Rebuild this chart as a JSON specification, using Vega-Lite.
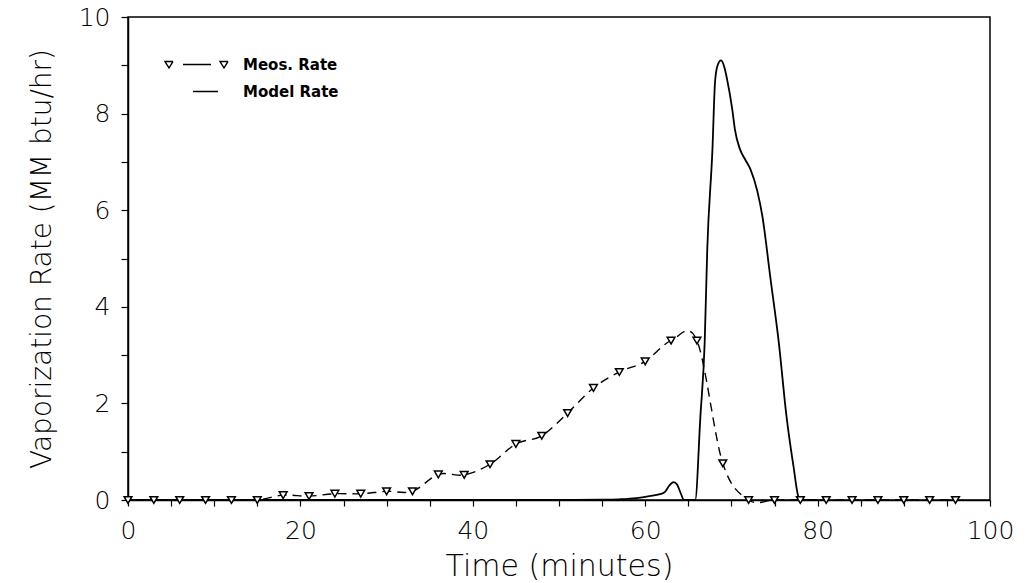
{
  "$schema": "https://vega.github.io/schema/vega-lite/v6.json",
  "autosize": "none",
  "width": 862,
  "height": 483,
  "padding": {"left": 128, "top": 17, "right": 39, "bottom": 83},
  "background": "white",
  "config": {
    "view": {"stroke": "black", "strokeWidth": 1.5},
    "font": "DejaVu Sans",
    "axis": {
      "grid": false,
      "domainColor": "black",
      "domainWidth": 1.5,
      "tickColor": "black",
      "tickWidth": 1.2,
      "labelColor": "black",
      "titleColor": "black",
      "labelFont": "DejaVu Sans",
      "titleFont": "DejaVu Sans",
      "labelFontWeight": 300,
      "titleFontWeight": 300,
      "labelFontSize": 25
    }
  },
  "data": {
    "values": [
      {"series": "Meos. Rate", "t": 0, "rate": 0},
      {"series": "Meos. Rate", "t": 3, "rate": 0},
      {"series": "Meos. Rate", "t": 6, "rate": 0},
      {"series": "Meos. Rate", "t": 9, "rate": 0},
      {"series": "Meos. Rate", "t": 12, "rate": 0},
      {"series": "Meos. Rate", "t": 15, "rate": 0},
      {"series": "Meos. Rate", "t": 18, "rate": 0.1},
      {"series": "Meos. Rate", "t": 21, "rate": 0.08},
      {"series": "Meos. Rate", "t": 24, "rate": 0.13},
      {"series": "Meos. Rate", "t": 27, "rate": 0.13},
      {"series": "Meos. Rate", "t": 30, "rate": 0.18},
      {"series": "Meos. Rate", "t": 33, "rate": 0.18},
      {"series": "Meos. Rate", "t": 36, "rate": 0.53},
      {"series": "Meos. Rate", "t": 39, "rate": 0.52},
      {"series": "Meos. Rate", "t": 42, "rate": 0.74},
      {"series": "Meos. Rate", "t": 45, "rate": 1.16},
      {"series": "Meos. Rate", "t": 48, "rate": 1.33},
      {"series": "Meos. Rate", "t": 51, "rate": 1.8},
      {"series": "Meos. Rate", "t": 54, "rate": 2.32},
      {"series": "Meos. Rate", "t": 57, "rate": 2.65},
      {"series": "Meos. Rate", "t": 60, "rate": 2.87},
      {"series": "Meos. Rate", "t": 63, "rate": 3.3},
      {"series": "Meos. Rate", "t": 66, "rate": 3.3},
      {"series": "Meos. Rate", "t": 69, "rate": 0.76},
      {"series": "Meos. Rate", "t": 72, "rate": 0},
      {"series": "Meos. Rate", "t": 75, "rate": 0},
      {"series": "Meos. Rate", "t": 78, "rate": 0},
      {"series": "Meos. Rate", "t": 81, "rate": 0},
      {"series": "Meos. Rate", "t": 84, "rate": 0},
      {"series": "Meos. Rate", "t": 87, "rate": 0},
      {"series": "Meos. Rate", "t": 90, "rate": 0},
      {"series": "Meos. Rate", "t": 93, "rate": 0},
      {"series": "Meos. Rate", "t": 96, "rate": 0},
      {"series": "Model Rate", "t": 0, "rate": 0},
      {"series": "Model Rate", "t": 50, "rate": 0},
      {"series": "Model Rate", "t": 55, "rate": 0.005},
      {"series": "Model Rate", "t": 57, "rate": 0.015},
      {"series": "Model Rate", "t": 59, "rate": 0.04},
      {"series": "Model Rate", "t": 60.5, "rate": 0.08},
      {"series": "Model Rate", "t": 61.7, "rate": 0.12},
      {"series": "Model Rate", "t": 62.3, "rate": 0.17},
      {"series": "Model Rate", "t": 62.8, "rate": 0.3},
      {"series": "Model Rate", "t": 63.3, "rate": 0.37},
      {"series": "Model Rate", "t": 63.7, "rate": 0.32},
      {"series": "Model Rate", "t": 64.1, "rate": 0.15},
      {"series": "Model Rate", "t": 64.5, "rate": 0},
      {"series": "Model Rate", "t": 65.8, "rate": 0},
      {"series": "Model Rate", "t": 66.4, "rate": 1.72},
      {"series": "Model Rate", "t": 66.9, "rate": 3.26},
      {"series": "Model Rate", "t": 67.2, "rate": 5.19},
      {"series": "Model Rate", "t": 67.8, "rate": 7.26},
      {"series": "Model Rate", "t": 68.1, "rate": 8.65},
      {"series": "Model Rate", "t": 68.4, "rate": 9.0},
      {"series": "Model Rate", "t": 68.8, "rate": 9.1},
      {"series": "Model Rate", "t": 69.2, "rate": 8.95},
      {"series": "Model Rate", "t": 69.5, "rate": 8.71},
      {"series": "Model Rate", "t": 70.1, "rate": 8.09},
      {"series": "Model Rate", "t": 70.4, "rate": 7.68},
      {"series": "Model Rate", "t": 71.0, "rate": 7.26},
      {"series": "Model Rate", "t": 71.6, "rate": 7.05},
      {"series": "Model Rate", "t": 72.2, "rate": 6.85},
      {"series": "Model Rate", "t": 73.0, "rate": 6.4},
      {"series": "Model Rate", "t": 73.6, "rate": 5.87},
      {"series": "Model Rate", "t": 74.5, "rate": 4.63},
      {"series": "Model Rate", "t": 75.5, "rate": 3.26},
      {"series": "Model Rate", "t": 76.4, "rate": 1.72},
      {"series": "Model Rate", "t": 77.2, "rate": 0.7},
      {"series": "Model Rate", "t": 77.8, "rate": 0.06},
      {"series": "Model Rate", "t": 78.2, "rate": 0},
      {"series": "Model Rate", "t": 80, "rate": 0}
    ]
  },
  "encoding": {
    "x": {
      "field": "t", "type": "quantitative",
      "scale": {"domain": [0, 100], "nice": false, "zero": false},
      "axis": {
        "title": "Time (minutes)",
        "titleFontSize": 30,
        "values": [0,5,10,15,20,25,30,35,40,45,50,55,60,65,70,75,80,85,90,95,100],
        "labelExpr": "datum.value % 20 === 0 ? datum.label : ''",
        "tickSize": 6,
        "labelPadding": 12,
        "labelFlush": false,
        "titlePadding": 8
      }
    },
    "y": {
      "field": "rate", "type": "quantitative",
      "scale": {"domain": [0, 10], "nice": false},
      "axis": {
        "title": "Vaporization Rate (MM btu/hr)",
        "titleFontSize": 28,
        "values": [0,1,2,3,4,5,6,7,8,9,10],
        "labelExpr": "datum.value % 2 === 0 ? datum.label : ''",
        "tickSize": 7,
        "labelPadding": 11,
        "labelFlush": false,
        "titlePadding": 22
      }
    }
  },
  "layer": [
    {
      "transform": [{"filter": "datum.series === 'Meos. Rate'"}],
      "mark": {"type": "line", "interpolate": "cardinal", "strokeDash": [9, 6], "strokeWidth": 1.4},
      "encoding": {
        "color": {
          "field": "series", "type": "nominal",
          "scale": {"domain": ["Meos. Rate", "Model Rate"], "range": ["black", "black"]},
          "legend": {
            "orient": "none",
            "legendX": 61,
            "legendY": 40,
            "title": null,
            "padding": 0,
            "symbolSize": 100,
            "symbolStrokeWidth": 1.4,
            "symbolDash": [1, 0],
            "labelFont": "DejaVu Sans",
            "labelFontSize": 15,
            "labelFontWeight": "bold",
            "labelColor": "black",
            "labelOffset": 39,
            "rowPadding": 11,
            "encode": {
              "symbols": {
                "update": {
                  "shape": {"signal": "datum.value === 'Meos. Rate' ? 'M-6.3,-0.6L-4.7,-0.6L-5.5,0.7ZM-2.7,0L2.9,0M4.7,-0.6L6.3,-0.6L5.5,0.7Z' : 'M-0.7,0L4.3,0'"},
                  "fill": {"value": "white"},
                  "stroke": {"value": "black"},
                  "strokeDash": {"value": [1, 0]},
                  "opacity": {"value": 1}
                }
              }
            }
          }
        }
      }
    },
    {
      "transform": [{"filter": "datum.series === 'Model Rate'"}],
      "mark": {"type": "line", "interpolate": "monotone", "strokeWidth": 1.8},
      "encoding": {
        "color": {"field": "series", "type": "nominal"}
      }
    },
    {
      "transform": [{"filter": "datum.series === 'Meos. Rate'"}],
      "mark": {"type": "point", "shape": "triangle-down", "filled": true, "fill": "white", "stroke": "black", "strokeWidth": 1.5, "size": 60, "opacity": 1}
    }
  ]
}
